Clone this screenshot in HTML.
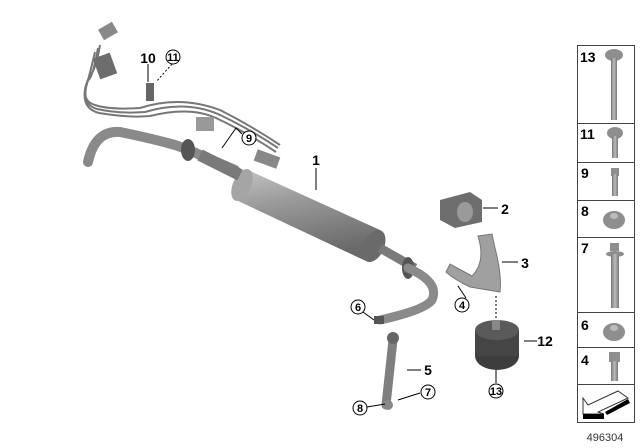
<!DOCTYPE html>
<html><head><style>
html,body{margin:0;padding:0;background:#fff;}
svg{display:block;}
text{font-family:"Liberation Sans",sans-serif;}
.b{font-weight:bold;font-size:14px;fill:#000;}
.s{font-size:11px;font-weight:bold;fill:#000;}
</style></head><body>
<svg width="640" height="448" viewBox="0 0 640 448" xmlns="http://www.w3.org/2000/svg">
<defs>
<linearGradient id="g" x1="0" y1="0" x2="0.3" y2="1">
<stop offset="0" stop-color="#c4c4c4"/><stop offset="0.4" stop-color="#9a9a9a"/><stop offset="1" stop-color="#6a6a6a"/></linearGradient>
<linearGradient id="m" x1="0" y1="0" x2="1" y2="0">
<stop offset="0" stop-color="#777"/><stop offset="0.5" stop-color="#bbb"/><stop offset="1" stop-color="#777"/></linearGradient>
</defs>
<g fill="none" stroke="#777" stroke-width="2">
<path d="M100,45 Q96,70 90,75 Q78,100 95,105 Q110,110 140,108 Q180,95 220,110 Q250,125 280,145"/>
<path d="M98,48 Q92,80 88,80 Q80,104 97,109 Q120,114 145,112 Q185,100 218,114 Q248,128 278,148"/>
<path d="M95,52 Q86,90 86,85 Q80,108 99,113 Q130,118 150,116 Q190,106 216,118 Q246,132 276,152"/>
</g>
<rect x="96" y="55" width="18" height="22" fill="#6d6d6d" transform="rotate(-20 105 66)"/>
<rect x="100" y="25" width="16" height="12" fill="#888" transform="rotate(-30 108 31)"/>
<rect x="146" y="83" width="8" height="18" fill="#666"/>
<rect x="196" y="117" width="18" height="14" fill="#999"/>
<rect x="255" y="153" width="24" height="12" fill="#888" transform="rotate(20 267 159)"/>
<path d="M88,162 Q95,130 120,132 Q150,138 175,145 Q190,150 200,155 L235,170" fill="none" stroke="#8a8a8a" stroke-width="10" stroke-linecap="round"/>
<ellipse cx="188" cy="150" rx="7" ry="11" fill="#555"/>
<path d="M248,170 L380,230 L368,262 L236,200 Z" fill="url(#g)"/>
<ellipse cx="242" cy="185" rx="9" ry="17" transform="rotate(24 242 185)" fill="#a5a5a5"/>
<ellipse cx="374" cy="246" rx="10" ry="17" transform="rotate(24 374 246)" fill="#6a6a6a"/>
<path d="M200,155 L240,175" stroke="#7a7a7a" stroke-width="12"/>
<path d="M380,248 L415,268" stroke="#7a7a7a" stroke-width="9"/>
<ellipse cx="408" cy="268" rx="6" ry="11" fill="#555"/>
<path d="M408,268 Q440,282 432,300 Q425,310 380,320" fill="none" stroke="#8a8a8a" stroke-width="9" stroke-linecap="round"/>
<rect x="374" y="316" width="10" height="8" fill="#555"/>
<path d="M393,340 L386,405" stroke="#7f7f7f" stroke-width="9" stroke-linecap="round"/>
<circle cx="393" cy="338" r="6" fill="#666"/>
<circle cx="388" cy="405" r="5" fill="#888"/>
<path d="M440,200 L470,192 L482,200 L482,222 L455,228 L440,220 Z" fill="#6e6e6e"/>
<ellipse cx="465" cy="212" rx="8" ry="10" fill="#9a9a9a"/>
<path d="M478,236 L492,234 L495,248 Q502,275 500,292 L470,287 Q455,280 446,272 L450,264 L472,276 Q486,262 478,236 Z" fill="#a0a0a0" stroke="#777"/>
<ellipse cx="497" cy="356" rx="22" ry="14" fill="#3d3d3d"/>
<rect x="475" y="330" width="44" height="26" fill="#454545"/>
<ellipse cx="497" cy="330" rx="22" ry="10" fill="#5a5a5a"/>
<rect x="492" y="320" width="8" height="10" fill="#888"/>
<g stroke="#000" stroke-width="1" fill="none">
<line x1="316" y1="168" x2="316" y2="190"/>
<line x1="483" y1="208" x2="498" y2="208"/>
<line x1="502" y1="262" x2="518" y2="262"/>
<line x1="466" y1="298" x2="458" y2="286"/>
<line x1="524" y1="341" x2="537" y2="341"/>
<line x1="496" y1="383" x2="496" y2="370"/>
<line x1="496" y1="296" x2="496" y2="318" stroke-dasharray="2,2"/>
<line x1="363" y1="312" x2="374" y2="320"/>
<line x1="407" y1="370" x2="421" y2="370"/>
<line x1="420" y1="393" x2="398" y2="400"/>
<line x1="367" y1="407" x2="385" y2="404"/>
<line x1="148" y1="64" x2="148" y2="82"/>
<line x1="172" y1="64" x2="156" y2="82" stroke-dasharray="2,2"/>
<polyline points="242,134 236,128 222,148"/>
</g>
<g fill="#fff" stroke="#000" stroke-width="1">
<circle cx="173" cy="57" r="7"/><circle cx="249" cy="138" r="7"/>
<circle cx="462" cy="305" r="7"/><circle cx="496" cy="391" r="7"/>
<circle cx="358" cy="307" r="7"/><circle cx="428" cy="392" r="7"/>
<circle cx="360" cy="408" r="7"/>
</g>
<g class="s" text-anchor="middle">
<text x="173" y="61">11</text><text x="249" y="142">9</text>
<text x="462" y="309">4</text><text x="496" y="395">13</text>
<text x="358" y="311">6</text><text x="428" y="396">7</text>
<text x="360" y="412">8</text>
</g>
<g class="b" text-anchor="middle">
<text x="148" y="63">10</text><text x="316" y="165">1</text>
<text x="505" y="214">2</text><text x="525" y="268">3</text>
<text x="545" y="346">12</text><text x="428" y="375">5</text>
</g>
<g fill="none" stroke="#444" stroke-width="1">
<rect x="577.5" y="45.5" width="57" height="377"/>
<line x1="577" y1="123.5" x2="635" y2="123.5"/>
<line x1="577" y1="162.5" x2="635" y2="162.5"/>
<line x1="577" y1="200.5" x2="635" y2="200.5"/>
<line x1="577" y1="237.5" x2="635" y2="237.5"/>
<line x1="577" y1="312.5" x2="635" y2="312.5"/>
<line x1="577" y1="347.5" x2="635" y2="347.5"/>
<line x1="577" y1="384.5" x2="635" y2="384.5"/>
</g>
<g class="b">
<text x="580" y="62">13</text><text x="580" y="139">11</text>
<text x="581" y="178">9</text><text x="581" y="216">8</text>
<text x="581" y="253">7</text><text x="581" y="330">6</text>
<text x="581" y="365">4</text>
</g>
<g fill="#8e8e8e">
<ellipse cx="614" cy="55" rx="9" ry="6"/><rect x="611" y="58" width="6" height="62" fill="url(#m)"/>
<ellipse cx="615" cy="133" rx="8" ry="6"/><rect x="612" y="136" width="6" height="22" fill="url(#m)"/>
<rect x="611" y="168" width="8" height="8"/><rect x="612" y="174" width="6" height="22" fill="url(#m)"/>
<ellipse cx="614" cy="220" rx="11" ry="9"/><ellipse cx="614" cy="216" rx="4" ry="3" fill="#bbb"/>
<rect x="610" y="243" width="9" height="8"/><ellipse cx="615" cy="254" rx="9" ry="3"/><rect x="611" y="254" width="8" height="54" fill="url(#m)"/>
<ellipse cx="614" cy="332" rx="11" ry="9"/><ellipse cx="614" cy="328" rx="4" ry="3" fill="#bbb"/>
<rect x="609" y="352" width="11" height="10"/><rect x="611" y="361" width="7" height="20" fill="url(#m)"/>
</g>
<path d="M583,414 L583,398 L588,405 L618,391 L628,398 L598,412 L604,414 Z" fill="#fff" stroke="#333"/>
<path d="M583,414 L604,414 L604,419 L583,419 Z M605,412 L628,399 L630,403 L607,415 Z" fill="#000"/>
<text x="605" y="441" text-anchor="middle" style="font-size:11px;fill:#333">496304</text>
</svg>
</body></html>
